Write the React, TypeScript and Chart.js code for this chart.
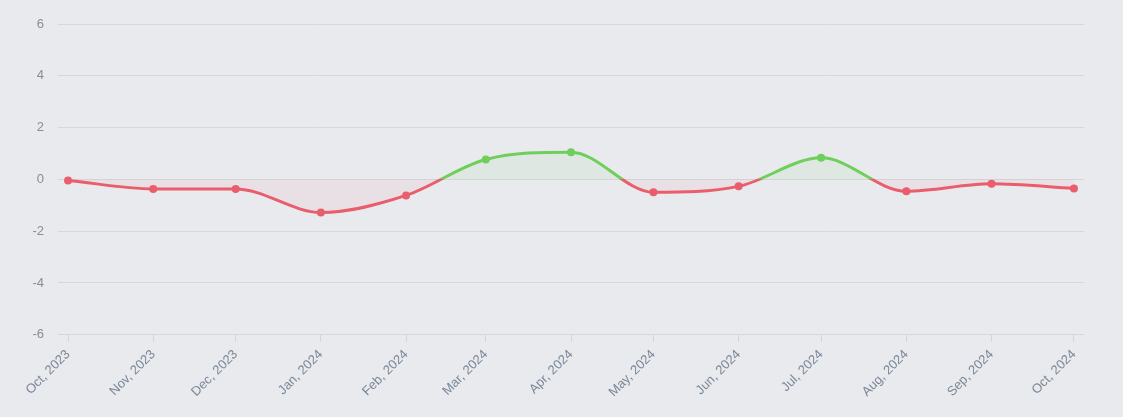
import { useEffect, useRef } from "react";
import { Chart, ChartOptions, registerables } from "chart.js";

Chart.register(...registerables);

// Monthly values (first day of each month)
const dates = [
  "2023-10-01", "2023-11-01", "2023-12-01", "2024-01-01", "2024-02-01",
  "2024-03-01", "2024-04-01", "2024-05-01", "2024-06-01", "2024-07-01",
  "2024-08-01", "2024-09-01", "2024-10-01",
];
const monthLabels = [
  "Oct, 2023", "Nov, 2023", "Dec, 2023", "Jan, 2024", "Feb, 2024",
  "Mar, 2024", "Apr, 2024", "May, 2024", "Jun, 2024", "Jul, 2024",
  "Aug, 2024", "Sep, 2024", "Oct, 2024",
];
const values = [
  -0.04, -0.37, -0.37, -1.28, -0.62, 0.77, 1.05, -0.5, -0.27, 0.83, -0.46, -0.17, -0.35,
];
const yTicks = [-6, -4, -2, 0, 2, 4, 6];

const RED = "#e95d6c";
const GREEN = "#6fcf5b";
const DAY = 86400000;

export default function App() {
  const chartRef = useRef<HTMLCanvasElement>(null);
  const chartInstance = useRef<Chart | null>(null);

  useEffect(() => {
    if (!chartRef.current) return;
    if (chartInstance.current) chartInstance.current.destroy();
    const ctx = chartRef.current.getContext("2d");
    if (!ctx) return;

    const start = Date.parse(dates[0]);
    const dayOf = (d: string) => (Date.parse(d) - start) / DAY;
    const xs = dates.map(dayOf);
    const points = xs.map((x, i) => ({ x, y: values[i] }));
    const pad = 3.65;

    const options: ChartOptions<"line"> = {
      responsive: true,
      maintainAspectRatio: false,
      animation: false,
      layout: { padding: { top: 24, right: 39, bottom: 12, left: 0 } },
      plugins: {
        legend: { display: false },
        tooltip: { enabled: false },
      },
      scales: {
        x: {
          type: "linear",
          min: xs[0] - pad,
          max: xs[xs.length - 1] + pad,
          border: { display: false },
          grid: { drawOnChartArea: false, drawTicks: true, tickLength: 7, color: "#d3d5da" },
          afterBuildTicks: (scale) => {
            scale.ticks = xs.map((v) => ({ value: v }));
          },
          ticks: {
            autoSkip: false,
            minRotation: 45,
            maxRotation: 45,
            padding: 5,
            color: "#7b8898",
            font: { family: "'Liberation Sans', Arial, sans-serif", size: 13 },
            callback: (value) => {
              const i = xs.indexOf(Number(value));
              return i >= 0 ? monthLabels[i] : "";
            },
          },
        },
        y: {
          min: -6,
          max: 6,
          border: { display: false },
          grid: { color: "#d6d7dc", drawTicks: false },
          afterBuildTicks: (scale) => {
            scale.ticks = yTicks.map((v) => ({ value: v }));
          },
          afterFit: (scale) => {
            scale.width = 58;
          },
          ticks: {
            padding: 14,
            color: "#888c94",
            font: { family: "'Liberation Sans', Arial, sans-serif", size: 13 },
          },
        },
      },
    };

    chartInstance.current = new Chart(ctx, {
      type: "line",
      data: {
        datasets: [
          {
            data: points,
            cubicInterpolationMode: "monotone",
            borderWidth: 3,
            borderColor: (c) => {
              const { chart } = c;
              const area = chart.chartArea;
              if (!area) return RED;
              const zero = chart.scales.y.getPixelForValue(0);
              const stop = Math.min(1, Math.max(0, (zero - area.top) / (area.bottom - area.top)));
              const g = chart.ctx.createLinearGradient(0, area.top, 0, area.bottom);
              g.addColorStop(0, GREEN);
              g.addColorStop(stop, GREEN);
              g.addColorStop(stop, RED);
              g.addColorStop(1, RED);
              return g;
            },
            pointRadius: 4,
            pointBorderWidth: 0,
            pointBackgroundColor: values.map((v) => (v >= 0 ? GREEN : RED)),
            pointBorderColor: values.map((v) => (v >= 0 ? GREEN : RED)),
            fill: {
              target: "origin",
              above: "rgba(111, 207, 91, 0.08)",
              below: "rgba(233, 93, 108, 0.07)",
            },
          },
        ],
      },
      options,
    });

    return () => {
      if (chartInstance.current) chartInstance.current.destroy();
    };
  }, []);

  return (
    <div
      style={{
        position: "fixed",
        left: 0,
        top: 0,
        width: 1123,
        height: 417,
        background: "#e9eaee",
      }}
    >
      <canvas ref={chartRef}></canvas>
    </div>
  );
}
